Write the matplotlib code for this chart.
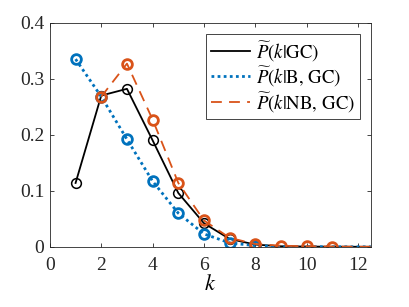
import numpy as np
import matplotlib
matplotlib.use('Agg')
import matplotlib.pyplot as plt

plt.rcParams['font.family'] = ['Liberation Serif', 'DejaVu Serif']
plt.rcParams['mathtext.fontset'] = 'stix'

k = np.arange(1, 14)
p_gc = [0.114, 0.270, 0.282, 0.190, 0.096, 0.042, 0.014, 0.004, 0.001, 0.0005, 0.0002, 0.0001, 0.0]
p_b = [0.335, 0.268, 0.192, 0.117, 0.060, 0.023, 0.007, 0.002, 0.0005, 0.0002, 0.0001, 0.0, 0.0]
k_nb = np.arange(2, 14)
p_nb = [0.268, 0.327, 0.227, 0.114, 0.047, 0.016, 0.005, 0.002, 0.001, 0.0005, 0.0002, 0.0001]

blue = '#0072BD'
red = '#D95319'

fig = plt.figure(figsize=(4.09, 3.07), dpi=100)
ax = fig.add_axes([0.122, 0.196, 0.785, 0.730])

ax.plot(k, p_gc, color='black', lw=1.3, marker='o', ms=7, mfc='none', mew=1.1,
        markevery=list(range(8)), label=r'$\widetilde{P}(k|\mathrm{GC})$')
ax.plot(k, p_b, color=blue, lw=2, ls=(0, (1, 1.2)), marker='o', ms=7, mfc='none', mew=2,
        markevery=list(range(8)), label=r'$\widetilde{P}(k|\mathrm{B},\,\mathrm{GC})$')
ax.plot(k_nb, p_nb, color=red, lw=1.3, ls=(0, (6, 4)), marker='o', ms=7, mfc='none', mew=2,
        markevery=list(range(10)), label=r'$\widetilde{P}(k|\mathrm{NB},\,\mathrm{GC})$')

ax.set_xlim(0, 12.5)
ax.set_ylim(0, 0.4)
ax.set_xticks([0, 2, 4, 6, 8, 10, 12])
ax.set_yticks([0, 0.1, 0.2, 0.3, 0.4])
ax.set_yticklabels(['0', '0.1', '0.2', '0.3', '0.4'])
ax.tick_params(direction='in', top=True, right=True, labelsize=14, colors='#262626',
               length=3, width=0.6, pad=4)
ax.tick_params(axis='x', pad=7)
for s in ax.spines.values():
    s.set_color('#262626')
    s.set_linewidth(0.6)
ax.set_xlabel('$k$', fontsize=16, labelpad=1)

leg = ax.legend(loc='upper right', fontsize=13.5, handlelength=2.1, handletextpad=0.3,
                borderpad=0.25, labelspacing=0.1, fancybox=False, framealpha=1,
                borderaxespad=0.6)
leg.get_frame().set_edgecolor('#262626')
leg.get_frame().set_linewidth(0.6)
for h in leg.legend_handles:
    h.set_marker('')

fig.savefig('out.png', dpi=100)
